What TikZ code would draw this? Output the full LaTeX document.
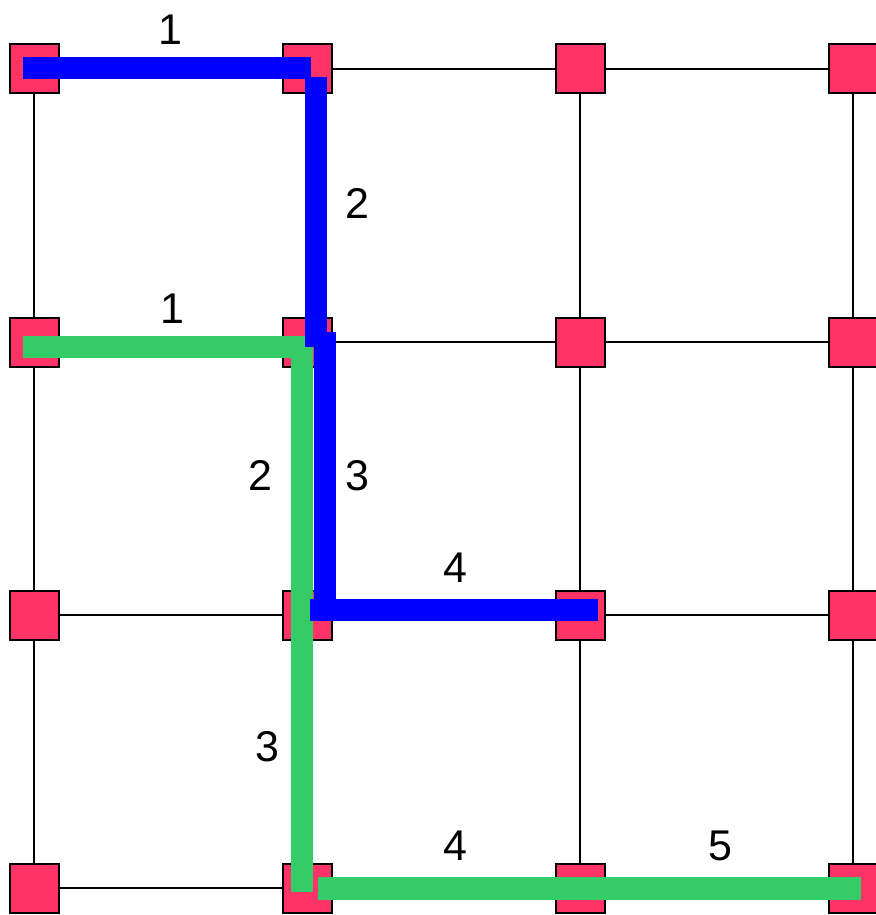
\documentclass[tikz,border=0pt]{standalone}
\usepackage{fontspec}
\setmainfont{Liberation Sans}
\definecolor{nodepink}{RGB}{255,51,102}
\definecolor{pathblue}{RGB}{0,0,255}
\definecolor{pathgreen}{RGB}{51,204,102}
\tikzset{
  gridnode/.style={draw=black,fill=nodepink,line width=2pt,minimum size=49pt,inner sep=0pt},
  gridedge/.style={draw=black,line width=1.8pt},
  blueseg/.style={draw=pathblue,line width=22pt,line cap=butt},
  greenseg/.style={draw=pathgreen,line width=22.5pt,line cap=butt},
  steplabel/.style={font=\fontsize{43pt}{43pt}\selectfont,inner sep=0pt,anchor=base}
}
\begin{document}
\begin{tikzpicture}[x=1pt,y=-1pt]
\useasboundingbox (0,0) rectangle (875,915);
\fill[white] (0,0) rectangle (875,915);
% grid nodes
\foreach \c/\xx in {0/34,1/307,2/580,3/853}{
  \foreach \r/\yy in {0/69,1/342,2/615,3/888}{
    \node[gridnode] (n\c\r) at (\xx,\yy) {};
  }
}
% grid edges
\foreach \r in {0,1,2,3}{
  \draw[gridedge] (n0\r) -- (n1\r);
  \draw[gridedge] (n1\r) -- (n2\r);
  \draw[gridedge] (n2\r) -- (n3\r);
}
\foreach \c in {0,1,2,3}{
  \draw[gridedge] (n\c0) -- (n\c1);
  \draw[gridedge] (n\c1) -- (n\c2);
  \draw[gridedge] (n\c2) -- (n\c3);
}
% green path
\coordinate (g1a) at (23,347.2);
\coordinate (g1b) at (313,347.2);
\coordinate (g2a) at (302,347);
\coordinate (g2b) at (302,615);
\coordinate (g3a) at (302,615);
\coordinate (g3b) at (302,892);
\coordinate (g4a) at (318,888.5);
\coordinate (g4b) at (861,888.5);
\draw[greenseg] (g1a) -- (g1b);
\draw[greenseg] (g2a) -- (g2b);
\draw[greenseg] (g3a) -- (g3b);
\draw[greenseg] (g4a) -- (g4b);
% blue path
\coordinate (b1a) at (23,68.3);
\coordinate (b1b) at (310.7,68.3);
\coordinate (b2a) at (316.2,77.3);
\coordinate (b2b) at (316.2,346.5);
\coordinate (b3a) at (324.5,332);
\coordinate (b3b) at (324.5,610);
\coordinate (b4a) at (310,610);
\coordinate (b4b) at (597.5,610);
\draw[blueseg] (b1a) -- (b1b);
\draw[blueseg] (b2a) -- (b2b);
\draw[blueseg] (b3a) -- (b3b);
\draw[blueseg] (b4a) -- (b4b);
% labels
\node[steplabel] (lb1) at (170,45) {1};
\node[steplabel] (lb2) at (357,218) {2};
\node[steplabel] (lg1) at (172,323) {1};
\node[steplabel] (lg2) at (260,490) {2};
\node[steplabel] (lb3) at (357,490) {3};
\node[steplabel] (lb4) at (455,582) {4};
\node[steplabel] (lg3) at (267,761) {3};
\node[steplabel] (lg4) at (455,860) {4};
\node[steplabel] (lg5) at (720,860) {5};
\end{tikzpicture}
\end{document}
